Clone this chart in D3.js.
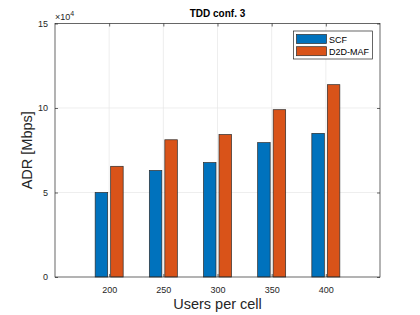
<!DOCTYPE html>
<html>
<head>
<meta charset="utf-8">
<script src="https://cdn.jsdelivr.net/npm/d3@7"></script>
<style>
body { margin: 0; background: #fff; }
svg { font-family: "Liberation Sans", Arial, sans-serif; }
</style>
</head>
<body>
<div id="main"></div>
<script>
var users = [200, 250, 300, 350, 400];
var scf = [5.0, 6.3, 6.77, 7.95, 8.5];
var d2d = [6.55, 8.12, 8.43, 9.9, 11.38];
var seriesNames = ["SCF", "D2D-MAF"];
var seriesColors = ["#0072BD", "#D95319"];
var yTicks = [0, 5, 10, 15];

var ctx = { w: 420, h: 315, left: 55, right: 380, top: 23.5, bottom: 277 };

var svg = d3.select("#main").append("svg")
  .attr("width", ctx.w).attr("height", ctx.h);

var x = d3.scaleLinear().domain([150, 450]).range([ctx.left, ctx.right]);
var y = d3.scaleLinear().domain([0, 15]).range([ctx.bottom, ctx.top]);

// grid
svg.append("g").selectAll("line").data(users).enter().append("line")
  .attr("x1", function(d){ return x(d); }).attr("x2", function(d){ return x(d); })
  .attr("y1", ctx.top).attr("y2", ctx.bottom)
  .style("stroke", "#e6e6e6").style("stroke-width", 0.7);
svg.append("g").selectAll("line").data(yTicks.slice(1, 3)).enter().append("line")
  .attr("x1", ctx.left).attr("x2", ctx.right)
  .attr("y1", function(d){ return y(d); }).attr("y2", function(d){ return y(d); })
  .style("stroke", "#e6e6e6").style("stroke-width", 0.7);

// bars
var barW = 12.5, gap = 3;
var series = [scf, d2d];
series.forEach(function(vals, s){
  svg.append("g").selectAll("rect").data(vals).enter().append("rect")
    .attr("x", function(d, i){
      var c = x(users[i]);
      return s == 0 ? c - gap / 2 - barW : c + gap / 2;
    })
    .attr("y", function(d){ return y(d); })
    .attr("width", barW)
    .attr("height", function(d){ return y(0) - y(d); })
    .style("fill", seriesColors[s])
    .style("stroke", "#2b2b2b").style("stroke-width", 0.7);
});

// axes box
var axisG = svg.append("g");
axisG.append("rect")
  .attr("x", ctx.left).attr("y", ctx.top)
  .attr("width", ctx.right - ctx.left).attr("height", ctx.bottom - ctx.top)
  .style("fill", "none").style("stroke", "#262626").style("stroke-width", 0.7);

var xAxis = d3.axisBottom(x).tickValues(users).tickSize(-3).tickPadding(10);
var gx = svg.append("g").attr("transform", "translate(0," + ctx.bottom + ")").call(xAxis);
var yAxis = d3.axisLeft(y).tickValues(yTicks).tickSize(-3).tickPadding(7);
var gy = svg.append("g").attr("transform", "translate(" + ctx.left + ",0)").call(yAxis);
svg.append("g").attr("transform", "translate(0," + ctx.top + ")")
  .call(d3.axisTop(x).tickValues(users).tickSize(-3).tickFormat(""));
svg.append("g").attr("transform", "translate(" + ctx.right + ",0)")
  .call(d3.axisRight(y).tickValues(yTicks).tickSize(-3).tickFormat(""));

svg.selectAll(".domain").remove();
svg.selectAll(".tick line").style("stroke", "#262626").style("stroke-width", 0.7);
svg.selectAll(".tick text").style("fill", "#262626").style("font-size", "9px")
  .style("font-family", "Liberation Sans, Arial, sans-serif");

// exponent
var expT = svg.append("text").attr("x", 55).attr("y", 20)
  .style("font-size", "9px").style("fill", "#262626");
expT.append("tspan").text("\u00d710");
expT.append("tspan").attr("dy", -4).style("font-size", "7px").text("4");

// title
svg.append("text").attr("x", (ctx.left + ctx.right) / 2).attr("y", 17)
  .attr("text-anchor", "middle").style("font-size", "10px").style("font-weight", "bold")
  .style("fill", "#000").text("TDD conf. 3");

// axis labels
svg.append("text").attr("x", (ctx.left + ctx.right) / 2).attr("y", 309)
  .attr("text-anchor", "middle").style("font-size", "14.5px").style("fill", "#262626")
  .text("Users per cell");
svg.append("text")
  .attr("transform", "translate(32," + (ctx.top + ctx.bottom) / 2 + ") rotate(-90)")
  .attr("text-anchor", "middle").style("font-size", "14.5px").style("fill", "#262626")
  .text("ADR [Mbps]");

// legend
var lg = svg.append("g");
lg.append("rect").attr("x", 293.5).attr("y", 31).attr("width", 79).attr("height", 28)
  .style("fill", "#fff").style("stroke", "#262626").style("stroke-width", 0.7);
seriesNames.forEach(function(name, i){
  lg.append("rect").attr("x", 296.5).attr("y", 34.5 + i * 12.2)
    .attr("width", 30).attr("height", 9)
    .style("fill", seriesColors[i]).style("stroke", "#2b2b2b").style("stroke-width", 0.7);
  lg.append("text").attr("x", 329).attr("y", 42.5 + i * 12.2)
    .style("font-size", "9px").style("fill", "#000").text(name);
});
</script>
</body>
</html>
